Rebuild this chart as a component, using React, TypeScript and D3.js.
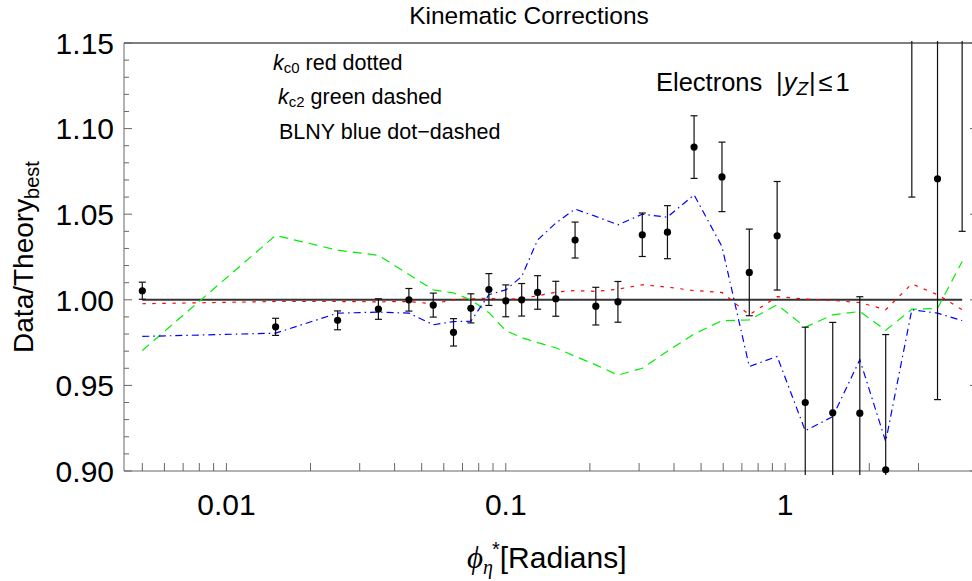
import React from 'react';
import * as d3 from 'd3';

// phi*_eta bin centres (radians)
const phiStar = [0.005, 0.015, 0.025, 0.035, 0.045, 0.055, 0.065, 0.075, 0.087, 0.1, 0.114, 0.13, 0.151, 0.177, 0.21, 0.252, 0.308, 0.379, 0.472, 0.594, 0.744, 0.936, 1.18, 1.48, 1.85, 2.29, 2.84, 3.51, 4.3];
// Data / Theory_best
const dataRatio = [1.0053, 0.9842, 0.988, 0.9946, 1.0, 0.9969, 0.981, 0.995, 1.006, 0.9994, 1.0, 1.0043, 1.0006, 1.0349, 0.9963, 0.9988, 1.038, 1.0395, 1.0892, 1.0718, 1.016, 1.0374, 0.94, 0.934, 0.9338, 0.9007, 1.2, 1.0707, 1.19];
const dataErr = [0.005, 0.005, 0.0055, 0.006, 0.0066, 0.007, 0.008, 0.0085, 0.0093, 0.0093, 0.0095, 0.0098, 0.0102, 0.0105, 0.011, 0.0119, 0.0127, 0.0155, 0.0183, 0.0203, 0.0253, 0.0317, 0.044, 0.0528, 0.068, 0.079, 0.14, 0.129, 0.15];
// theory variants relative to best
const kc0 = [0.9977, 0.999, 0.999, 0.9988, 0.999, 0.9977, 1.0, 1.0005, 1.001, 1.0, 1.001, 1.0023, 1.0045, 1.0054, 1.0049, 1.0062, 1.0088, 1.0074, 1.0054, 1.0043, 0.9912, 1.0019, 1.0004, 0.9996, 0.9984, 0.9942, 1.0093, 1.003, 0.9942];
const kc2 = [0.9704, 1.0376, 1.029, 1.026, 1.0148, 1.0058, 1.004, 1.0, 0.9925, 0.982, 0.9779, 0.975, 0.972, 0.967, 0.962, 0.956, 0.96, 0.97, 0.98, 0.9878, 0.9882, 0.9971, 0.984, 0.9912, 0.9932, 0.9822, 0.9945, 0.995, 1.0224];
const blny = [0.9786, 0.9805, 0.9922, 0.9928, 0.9922, 0.9854, 0.9873, 0.9875, 1.003, 1.0058, 1.0136, 1.035, 1.0448, 1.053, 1.0487, 1.0438, 1.05, 1.0483, 1.0613, 1.0311, 0.961, 0.9669, 0.9235, 0.9318, 0.965, 0.9172, 0.9942, 0.9922, 0.9879];

const yTicksMajor = [0.9, 0.95, 1.0, 1.05, 1.1, 1.15];
const yTickLabels = ['0.90', '0.95', '1.00', '1.05', '1.10', '1.15'];
const yTicksMinor = [0.91, 0.92, 0.93, 0.94, 0.96, 0.97, 0.98, 0.99, 1.01, 1.02, 1.03, 1.04, 1.06, 1.07, 1.08, 1.09, 1.11, 1.12, 1.13, 1.14];
const xTicksMajor = [0.01, 0.1, 1];
const xTickLabels = ['0.01', '0.1', '1'];
const xTicksMinor = [0.005, 0.006, 0.007, 0.008, 0.009, 0.02, 0.03, 0.04, 0.05, 0.06, 0.07, 0.08, 0.09, 0.2, 0.3, 0.4, 0.5, 0.6, 0.7, 0.8, 0.9, 2, 3];

const W = 972, H = 581;
const L = 124, R = 978, T = 43, B = 471;
const SANS = '"Liberation Sans", Arial, Helvetica, sans-serif';
const SERIF = '"Liberation Serif", "DejaVu Serif", serif';

export default function App() {
  const x = d3.scaleLog().domain([0.0043, 4.9]).range([L, R]);
  const y = d3.scaleLinear().domain([0.9, 1.15]).range([B, T]);

  const line = d3.line<number>()
    .x((_, i) => x(phiStar[i]))
    .y((d) => y(d));

  const axisCol = '#666';

  return (
    <svg width={W} height={H} style={{ position: 'absolute', left: 0, top: 0, background: '#fff' }}
      xmlns="http://www.w3.org/2000/svg">
      <defs>
        <clipPath id="plotClip">
          <rect x={L} y={T - 2} width={R - L} height={B - T + 6} />
        </clipPath>
        <clipPath id="ptClip">
          <rect x={L} y={T - 5} width={R - L} height={B - T + 12} />
        </clipPath>
      </defs>

      {/* title */}
      <text x={529} y={24} fontFamily={SANS} fontSize={24.5} textAnchor="middle">Kinematic Corrections</text>

      {/* frame */}
      <line x1={L} x2={R} y1={T} y2={T} stroke="#000" strokeWidth={1} />
      <line x1={L} x2={L} y1={T} y2={B} stroke={axisCol} strokeWidth={1} />
      <line x1={L} x2={R} y1={B} y2={B} stroke={axisCol} strokeWidth={1} />
      <line x1={R} x2={R} y1={T} y2={B} stroke={axisCol} strokeWidth={1} />

      {/* y ticks */}
      {yTicksMajor.map((v, i) => (
        <g key={'ym' + i}>
          <line x1={L} x2={L + 8} y1={y(v)} y2={y(v)} stroke={axisCol} />
          <line x1={R - 8} x2={R} y1={y(v)} y2={y(v)} stroke={axisCol} />
          <text x={114} y={y(v)} dy="0.36em" fontFamily={SANS} fontSize={30} textAnchor="end">{yTickLabels[i]}</text>
        </g>
      ))}
      {yTicksMinor.map((v, i) => (
        <g key={'yn' + i}>
          <line x1={L} x2={L + 5} y1={y(v)} y2={y(v)} stroke={axisCol} />
          <line x1={R - 5} x2={R} y1={y(v)} y2={y(v)} stroke={axisCol} />
        </g>
      ))}

      {/* x ticks */}
      {xTicksMajor.map((v, i) => (
        <g key={'xm' + i}>
          <line x1={x(v)} x2={x(v)} y1={B} y2={B - 8} stroke={axisCol} />
          <text x={x(v)} y={515} fontFamily={SANS} fontSize={30} textAnchor="middle">{xTickLabels[i]}</text>
        </g>
      ))}
      {xTicksMinor.map((v, i) => (
        <line key={'xn' + i} x1={x(v)} x2={x(v)} y1={B} y2={B - 8} stroke={axisCol} />
      ))}

      {/* axis labels */}
      <text transform={`translate(33,257) rotate(-90)`} fontFamily={SANS} fontSize={28} textAnchor="middle">
        Data/Theory<tspan fontSize={20} dy={6}>best</tspan>
      </text>
      <text x={467} y={568} fontFamily={SANS} fontSize={30}>
        <tspan fontFamily={SERIF} fontStyle="italic" fontSize={31}>ϕ</tspan>
        <tspan fontFamily={SERIF} fontStyle="italic" fontSize={20} dy={6}>η</tspan>
        <tspan fontSize={20} dy={-18} dx={-1}>*</tspan>
        <tspan dy={12}>[Radians]</tspan>
      </text>

      {/* legend text */}
      <text x={273} y={70} fontFamily={SANS} fontSize={21.5}>
        <tspan fontStyle="italic">k</tspan>
        <tspan fontSize={15} dy={3}>c0</tspan>
        <tspan dy={-3}> red dotted</tspan>
      </text>
      <text x={278} y={104} fontFamily={SANS} fontSize={21.5}>
        <tspan fontStyle="italic">k</tspan>
        <tspan fontSize={15} dy={3}>c2</tspan>
        <tspan dy={-3}> green dashed</tspan>
      </text>
      <text x={279} y={139} fontFamily={SANS} fontSize={21.5}>BLNY blue dot−dashed</text>

      <text x={656} y={91} fontFamily={SANS} fontSize={25.5}>
        <tspan>Electrons</tspan>
        <tspan x={776}>|</tspan>
        <tspan fontStyle="italic" dx={1}>y</tspan>
        <tspan fontStyle="italic" fontSize={19} dy={4}>Z</tspan>
        <tspan dy={-4} dx={1}>|</tspan>
        <tspan dx={3}>≤</tspan>
        <tspan dx={3}>1</tspan>
      </text>

      <g clipPath="url(#plotClip)">
        {/* reference line */}
        <line x1={x(phiStar[0])} x2={x(phiStar[phiStar.length - 1])} y1={y(1)} y2={y(1)} stroke="#333" strokeWidth={2} />
        {/* theory curves */}
        <path d={line(kc0) || ''} fill="none" stroke="#ff0000" strokeWidth={1.2} strokeDasharray="3.5,6.5" />
        <path d={line(kc2) || ''} fill="none" stroke="#00ee00" strokeWidth={1.2} strokeDasharray="9,6" />
        <path d={line(blny) || ''} fill="none" stroke="#0000ff" strokeWidth={1.2} strokeDasharray="7,4,1.5,4" />
        {/* error bars */}
        {phiStar.map((p, i) => {
          const cx = x(p);
          const y1 = y(dataRatio[i] + dataErr[i]);
          const y2 = y(dataRatio[i] - dataErr[i]);
          return (
            <g key={'e' + i} stroke="#111" strokeWidth={1.2}>
              <line x1={cx} x2={cx} y1={y1} y2={y2} />
              <line x1={cx - 3.5} x2={cx + 3.5} y1={y1} y2={y1} />
              <line x1={cx - 3.5} x2={cx + 3.5} y1={y2} y2={y2} />
            </g>
          );
        })}
      </g>
      <g clipPath="url(#ptClip)">
        {phiStar.map((p, i) => (
          <circle key={'p' + i} cx={x(p)} cy={y(dataRatio[i])} r={3.6} fill="#000" />
        ))}
      </g>
    </svg>
  );
}
